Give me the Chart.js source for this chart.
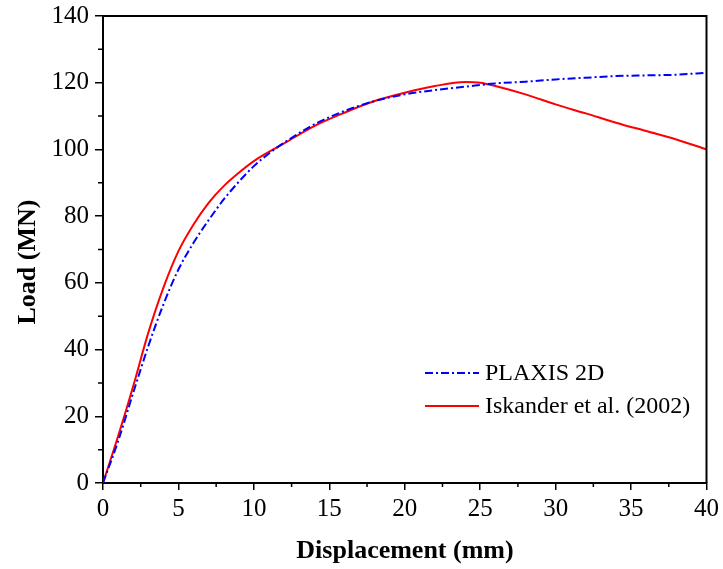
<!DOCTYPE html>
<html>
<head>
<meta charset="utf-8">
<script src="https://cdn.jsdelivr.net/npm/chart.js@4"></script>
<style>
  html, body { margin: 0; padding: 0; background: #fff; }
  #wrap { width: 723px; height: 569px; }
</style>
</head>
<body>
<div id="wrap"><canvas id="grafico"></canvas></div>
<script>
// deslocamento (mm) / carga (MN)
const despPlaxis = [0, 1, 2, 3, 4, 5, 6, 7, 8, 9, 10, 11, 12, 14, 16, 18, 20, 22, 24, 26, 28, 30, 32, 34, 36, 38, 40];
const cargaPlaxis = [0, 12.5, 27, 41, 53.5, 64, 72, 78.8, 85, 90.3, 95, 98.8, 102, 107.5, 111.5, 114.5, 116.5, 117.8, 118.8, 119.8, 120.3, 121, 121.5, 122, 122.2, 122.4, 123];

const despIskander = [0, 1, 2, 3, 4, 5, 6, 7, 8, 9, 10, 12, 14, 16, 18, 20, 22, 24, 25, 26, 28, 30, 32, 34, 36, 38, 40];
const cargaIskander = [0, 14, 29, 45, 58.5, 69.5, 77.5, 84, 89, 93, 96.5, 101.8, 107, 111, 114.5, 117, 119, 120.2, 120, 119, 116.5, 113.5, 110.8, 108, 105.5, 103, 100];

const nomes = ['PLAXIS 2D', 'Iskander et al. (2002)'];
const tituloX = 'Displacement (mm)';
const tituloY = 'Load (MN)';

const fonte = 'Liberation Serif, Times New Roman, serif';

// borda superior/direita, ticks menores, titulos e legenda
const extras = {
    id: 'extras',
    afterDraw(chart) {
        const c = chart.ctx;
        const a = chart.chartArea;
        const sx = chart.scales.x;
        const sy = chart.scales.y;
        c.save();
        c.strokeStyle = '#000';
        c.lineWidth = 2;
        c.beginPath();
        c.moveTo(a.left, a.top);
        c.lineTo(a.right, a.top);
        c.lineTo(a.right, a.bottom);
        c.stroke();

        c.lineWidth = 1.5;
        c.beginPath();
        for (let v = 2.5; v < 40; v += 5) {
            const px = sx.getPixelForValue(v);
            c.moveTo(px, a.bottom);
            c.lineTo(px, a.bottom + 4);
        }
        for (let v = 10; v < 140; v += 20) {
            const py = sy.getPixelForValue(v);
            c.moveTo(a.left, py);
            c.lineTo(a.left - 5, py);
        }
        c.stroke();

        // titulos dos eixos
        c.fillStyle = '#000';
        c.font = 'bold 26px ' + fonte;
        c.textAlign = 'center';
        c.textBaseline = 'alphabetic';
        c.fillText(tituloX, 405, 558);
        c.save();
        c.translate(35, 262);
        c.rotate(-Math.PI / 2);
        c.fillText(tituloY, 0, 0);
        c.restore();

        // legenda
        const ds = chart.data.datasets;
        const ys = [373, 406];
        c.font = '24px ' + fonte;
        c.textAlign = 'left';
        c.textBaseline = 'middle';
        ds.forEach((d, i) => {
            c.strokeStyle = d.borderColor;
            c.lineWidth = 2;
            c.setLineDash(d.borderDash || []);
            c.beginPath();
            c.moveTo(425, ys[i]);
            c.lineTo(479, ys[i]);
            c.stroke();
            c.setLineDash([]);
            c.fillStyle = '#000';
            c.fillText(d.label, 485, ys[i] + 1);
        });
        c.restore();
    }
};

const ctx = document.getElementById('grafico');

new Chart(ctx, {
    type: 'line',
    data: {
        datasets: [{
            label: nomes[0],
            data: despPlaxis.map((x, i) => ({ x: x, y: cargaPlaxis[i] })),
            borderColor: '#0000ff',
            borderWidth: 2,
            borderDash: [8, 3, 2, 3],
            pointRadius: 0,
            cubicInterpolationMode: 'monotone',
            fill: false
        }, {
            label: nomes[1],
            data: despIskander.map((x, i) => ({ x: x, y: cargaIskander[i] })),
            borderColor: '#ff0000',
            borderWidth: 2,
            pointRadius: 0,
            cubicInterpolationMode: 'monotone',
            fill: false
        }]
    },
    options: {
        responsive: true,
        maintainAspectRatio: false,
        animation: false,
        layout: { padding: { top: 15, right: 16, left: 0, bottom: 0 } },
        plugins: {
            legend: { display: false },
            tooltip: { enabled: false }
        },
        scales: {
            x: {
                type: 'linear',
                min: 0,
                max: 40,
                afterFit: s => { s.height = 86; },
                ticks: {
                    stepSize: 5,
                    color: '#000',
                    padding: 4,
                    maxRotation: 0,
                    font: { family: fonte, size: 25 }
                },
                grid: { drawOnChartArea: false, tickLength: 7, color: '#000', lineWidth: 1.5 },
                border: { color: '#000', width: 2 }
            },
            y: {
                min: 0,
                max: 140,
                afterFit: s => { s.width = 103; },
                ticks: {
                    stepSize: 20,
                    color: '#000',
                    padding: 6,
                    font: { family: fonte, size: 25, lineHeight: 0.8 }
                },
                grid: { drawOnChartArea: false, tickLength: 8, color: '#000', lineWidth: 1.5 },
                border: { color: '#000', width: 2 }
            }
        }
    },
    plugins: [extras]
});
</script>
</body>
</html>
